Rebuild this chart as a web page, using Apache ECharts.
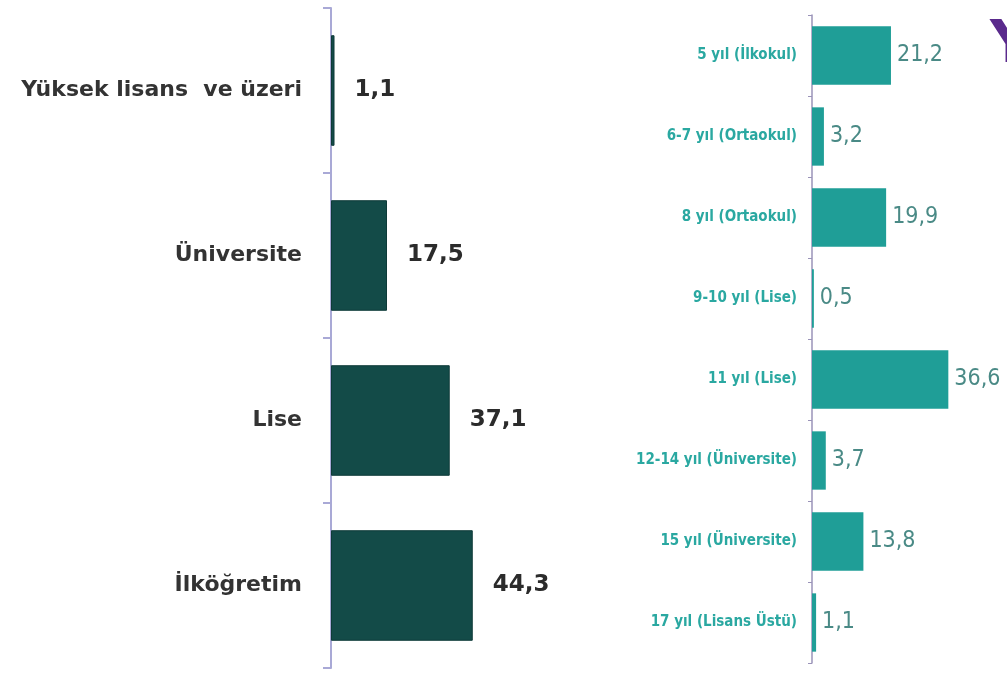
<!DOCTYPE html>
<html>
<head>
<meta charset="utf-8">
<script src="https://cdn.jsdelivr.net/npm/echarts@6/dist/echarts.min.js"></script>
<style>
  html, body { margin: 0; padding: 0; background: #fff; }
  #chart { width: 1007px; height: 675px; }
</style>
</head>
<body>
<div id="chart"></div>
<script>
// left panel: education level (%)
const levelCategories = ['Yüksek lisans  ve üzeri', 'Üniversite', 'Lise', 'İlköğretim'];
const levelValues = [1.1, 17.5, 37.1, 44.3];

// right panel: years of schooling (%)
const yearCategories = [
    '5 yıl (İlkokul)',
    '6-7 yıl (Ortaokul)',
    '8 yıl (Ortaokul)',
    '9-10 yıl (Lise)',
    '11 yıl (Lise)',
    '12-14 yıl (Üniversite)',
    '15 yıl (Üniversite)',
    '17 yıl (Lisans Üstü)'
];
const yearValues = [21.2, 3.2, 19.9, 0.5, 36.6, 3.7, 13.8, 1.1];

const axisColor = '#a9a9d6';
const commaFmt = p => String(p.value).replace('.', ',');
const narrowFont = '"Liberation Sans Narrow", "DejaVu Sans Condensed", sans-serif';

const chart = echarts.init(document.getElementById('chart'));

chart.setOption({
    backgroundColor: '#ffffff',
    animation: false,
    grid: [
        { left: 331, top: 8, width: 192, height: 660 },
        { left: 812, top: 15, width: 149, height: 648 }
    ],
    xAxis: [
        { gridIndex: 0, type: 'value', min: 0, max: 60, show: false },
        { gridIndex: 1, type: 'value', min: 0, max: 40, show: false }
    ],
    yAxis: [
        {
            gridIndex: 0,
            type: 'category',
            inverse: true,
            data: levelCategories,
            axisLine: { show: true, lineStyle: { color: axisColor, width: 2 } },
            axisTick: { show: true, length: 8, lineStyle: { color: axisColor, width: 2 } },
            axisLabel: {
                margin: 29,
                color: '#333333',
                fontFamily: '"DejaVu Sans", Verdana, sans-serif',
                fontWeight: 'bold',
                fontSize: 22
            }
        },
        {
            gridIndex: 1,
            type: 'category',
            inverse: true,
            data: yearCategories,
            axisLine: { show: true, lineStyle: { color: '#9a93b8', width: 1.5 } },
            axisTick: { show: true, length: 4, lineStyle: { color: '#9a93b8' } },
            axisLabel: {
                margin: 15,
                color: '#2aa8a1',
                fontFamily: narrowFont,
                fontWeight: 'bold',
                fontSize: 15
            }
        }
    ],
    series: [
        {
            type: 'bar',
            xAxisIndex: 0,
            yAxisIndex: 0,
            data: levelValues,
            barCategoryGap: '33%',
            itemStyle: { color: '#134b48', borderColor: '#0e3a38', borderWidth: 1 },
            label: {
                show: true,
                position: 'right',
                distance: 20,
                formatter: commaFmt,
                color: '#2b2b2b',
                fontFamily: '"DejaVu Sans", Verdana, sans-serif',
                fontWeight: 'bold',
                fontSize: 23
            }
        },
        {
            type: 'bar',
            xAxisIndex: 1,
            yAxisIndex: 1,
            data: yearValues,
            barCategoryGap: '28%',
            itemStyle: { color: '#1f9e97' },
            label: {
                show: true,
                position: 'right',
                distance: 6,
                formatter: commaFmt,
                color: '#4a8a86',
                fontFamily: narrowFont,
                fontSize: 23
            }
        }
    ],
    graphic: [
        {
            type: 'text',
            left: 990,
            top: 18,
            style: {
                text: 'Y',
                fill: '#5a2a8c',
                fontSize: 58,
                fontWeight: 'bold',
                fontFamily: '"DejaVu Sans", sans-serif'
            }
        }
    ]
});
</script>
</body>
</html>
